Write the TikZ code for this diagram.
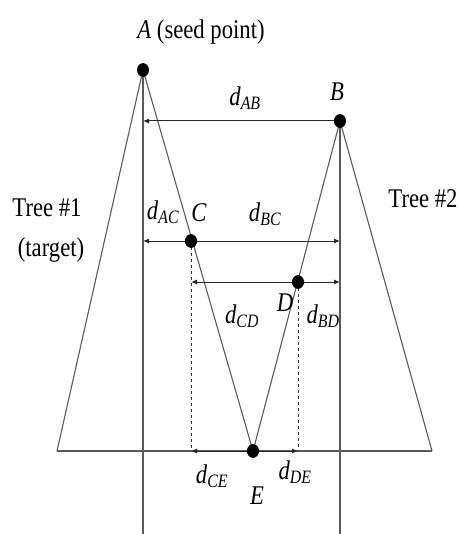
\documentclass[tikz,border=0pt]{standalone}
\usepackage{fontspec}
\setmainfont{Liberation Serif}
\usetikzlibrary{arrows.meta, positioning}
\definecolor{linecolor}{RGB}{90, 90, 90}

\begin{document}
\begin{tikzpicture}[x=1pt, y=-1pt,
    treeline/.style={draw=linecolor, line width=1.1pt},
    dot/.style={circle, fill=black, inner sep=0pt, minimum size=12pt, yscale=1.15},
    dim/.style={{Latex[length=6pt,width=5pt]}-{Latex[length=6pt,width=5pt]}, draw=black!85, line width=1pt},
    guide/.style={draw=black!80, dashed, line width=0.8pt},
    lbl/.style={font=\fontsize{27}{30}\selectfont, xscale=0.84, inner sep=1pt}]
\useasboundingbox (0,0) rectangle (460,534);

% points of the two trees
\coordinate (A) at (143,70);
\coordinate (B) at (340,121);
\coordinate (C) at (191,241);
\coordinate (D) at (298,282);
\coordinate (E) at (253,451);
\coordinate (baseL) at (57,451);
\coordinate (baseR) at (432,451);
\coordinate (Abot) at (143,534);
\coordinate (Bbot) at (340,534);
\coordinate (Cbase) at (191,451);
\coordinate (Dbase) at (298,451);
\coordinate (Aac) at (143,241);
\coordinate (Bbc) at (340,241);
\coordinate (Bbd) at (340,282);

% trees and axes
\draw[treeline] (baseL) -- (A) -- (E) -- (B) -- (baseR);
\draw[treeline] (baseL) -- (baseR);
\draw[treeline] (A) -- (Abot);
\draw[treeline] (B) -- (Bbot);
\draw[guide] (C) -- (Cbase);
\draw[guide] (D) -- (Dbase);

% distances
\draw[dim] (A |- B) -- (B);
\draw[dim] (Aac) -- (C);
\draw[dim] (C) -- (Bbc);
\draw[dim] (C |- D) -- (D);
\draw[dim] (D) -- (Bbd);
\draw[dim] (Cbase) -- (E);
\draw[dim] (E) -- (Dbase);

% dots
\foreach \p in {A,B,C,D,E}
    \node[dot] (dot\p) at (\p) {};

% labels
\node[lbl] (labA) at (201,32) {\textit{A} (seed point)};
\node[lbl] (labB) at (337,92) {\textit{B}};
\node[lbl] (labC) at (199,213) {\textit{C}};
\node[lbl] (labD) at (285,303) {\textit{D}};
\node[lbl] (labE) at (257,496) {\textit{E}};
\node[lbl] (labAB) at (245,98) {\textit{d\textsubscript{AB}}};
\node[lbl] (labAC) at (163,212) {\textit{d\textsubscript{AC}}};
\node[lbl] (labBC) at (265,214) {\textit{d\textsubscript{BC}}};
\node[lbl] (labCD) at (242,316) {\textit{d\textsubscript{CD}}};
\node[lbl] (labBD) at (323,316) {\textit{d\textsubscript{BD}}};
\node[lbl] (labCE) at (212,476) {\textit{d\textsubscript{CE}}};
\node[lbl] (labDE) at (295,472) {\textit{d\textsubscript{DE}}};
\node[lbl] (tree1) at (47,208) {Tree \#1};
\node[lbl] (target) at (51,250) {(target)};
\node[lbl] (tree2) at (423,199) {Tree \#2};
\end{tikzpicture}
\end{document}
